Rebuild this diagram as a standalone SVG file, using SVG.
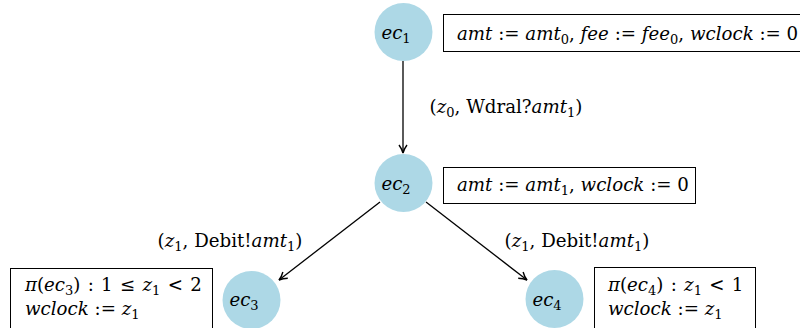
<svg xmlns="http://www.w3.org/2000/svg" width="800" height="328" viewBox="0 0 800 328" font-family="'DejaVu Serif', serif">
<defs>
<style>
.n{fill:#add8e6;stroke:none}
.b{fill:#fff;stroke:#000;stroke-width:1}
text{font-family:'DejaVu Serif',serif;font-size:18.2px;fill:#000}
.i{font-style:italic}
.s{font-size:13px}
.w{word-spacing:1.5px}
.e{stroke:#000;stroke-width:1.3;fill:none;marker-end:url(#ah)}
</style>
<marker id="ah" viewBox="0 0 10 10" refX="9" refY="5" markerWidth="10" markerHeight="10" markerUnits="userSpaceOnUse" orient="auto">
<path d="M1,1 Q5,4 9,5 Q5,6 1,9" fill="none" stroke="#000" stroke-width="1.4"/>
</marker>
</defs>
<g id="connectors">
<line class="e" x1="403" y1="61" x2="403" y2="153"/>
<line class="e" x1="380" y1="202" x2="279" y2="280"/>
<line class="e" x1="426" y1="202" x2="527" y2="280"/>
<text x="506" y="113" text-anchor="middle">(<tspan class="i">z</tspan><tspan class="s" dy="4">0</tspan><tspan dy="-4">, Wdral?</tspan><tspan class="i">amt</tspan><tspan class="s" dy="4">1</tspan><tspan dy="-4">)</tspan></text>
<text x="230" y="247" text-anchor="middle">(<tspan class="i">z</tspan><tspan class="s" dy="4">1</tspan><tspan dy="-4">, Debit!</tspan><tspan class="i">amt</tspan><tspan class="s" dy="4">1</tspan><tspan dy="-4">)</tspan></text>
<text x="577" y="247" text-anchor="middle">(<tspan class="i">z</tspan><tspan class="s" dy="4">1</tspan><tspan dy="-4">, Debit!</tspan><tspan class="i">amt</tspan><tspan class="s" dy="4">1</tspan><tspan dy="-4">)</tspan></text>
</g>
<g id="ec1">
<circle class="n" cx="403.5" cy="32" r="29"/>
<text x="396" y="39" text-anchor="middle" class="i">ec<tspan class="s" dy="4" style="font-style:normal">1</tspan></text>
<rect class="b" x="443.5" y="14.5" width="360" height="37"/>
<text x="457" y="40"><tspan class="i">amt</tspan> := <tspan class="i">amt</tspan><tspan class="s" dy="4">0</tspan><tspan dy="-4">, </tspan><tspan class="i">fee</tspan> := <tspan class="i">fee</tspan><tspan class="s" dy="4">0</tspan><tspan dy="-4">, </tspan><tspan class="i">wclock</tspan> := 0</text>
</g>
<g id="ec2">
<circle class="n" cx="403.5" cy="183" r="29"/>
<text x="396" y="190" text-anchor="middle" class="i">ec<tspan class="s" dy="4" style="font-style:normal">2</tspan></text>
<rect class="b" x="443.5" y="167.5" width="252" height="36"/>
<text x="457" y="191"><tspan class="i">amt</tspan> := <tspan class="i">amt</tspan><tspan class="s" dy="4">1</tspan><tspan dy="-4">, </tspan><tspan class="i">wclock</tspan> := 0</text>
</g>
<g id="ec3">
<circle class="n" cx="251.5" cy="300" r="29"/>
<text x="244" y="306" text-anchor="middle" class="i">ec<tspan class="s" dy="4" style="font-style:normal">3</tspan></text>
<rect class="b" x="10.5" y="268.5" width="202" height="70"/>
<text x="25" y="291" class="w"><tspan class="i">π</tspan>(<tspan class="i">ec</tspan><tspan class="s" dy="4">3</tspan><tspan dy="-4">) : 1 ≤ </tspan><tspan class="i">z</tspan><tspan class="s" dy="4">1</tspan><tspan dy="-4"> &lt; 2</tspan></text>
<text x="25" y="315"><tspan class="i">wclock</tspan> := <tspan class="i">z</tspan><tspan class="s" dy="4">1</tspan></text>
</g>
<g id="ec4">
<circle class="n" cx="554.5" cy="299" r="29"/>
<text x="547" y="306" text-anchor="middle" class="i">ec<tspan class="s" dy="4" style="font-style:normal">4</tspan></text>
<rect class="b" x="594.5" y="267.5" width="161" height="70"/>
<text x="608" y="291" class="w"><tspan class="i">π</tspan>(<tspan class="i">ec</tspan><tspan class="s" dy="4">4</tspan><tspan dy="-4">) : </tspan><tspan class="i">z</tspan><tspan class="s" dy="4">1</tspan><tspan dy="-4"> &lt; 1</tspan></text>
<text x="608" y="315"><tspan class="i">wclock</tspan> := <tspan class="i">z</tspan><tspan class="s" dy="4">1</tspan></text>
</g>
</svg>
